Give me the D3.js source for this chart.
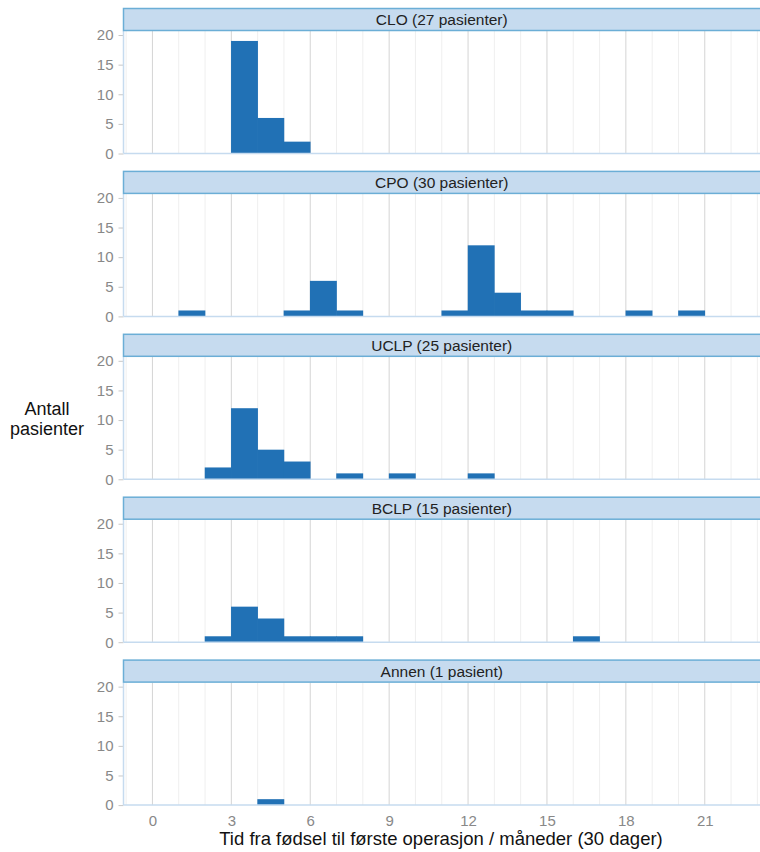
<!DOCTYPE html>
<html>
<head>
<meta charset="utf-8">
<script src="https://cdn.jsdelivr.net/npm/d3@7"></script>
<style>
  body { margin: 0; background: #fff; }
  svg { font-family: "Liberation Sans", Arial, sans-serif; }
</style>
</head>
<body>
<div id="chart"></div>
<script>
// Facets (diagnosis groups) and their strip titles
const groups = ['CLO', 'CPO', 'UCLP', 'BCLP', 'Annen'];
const stripLabels = ['CLO (27 pasienter)', 'CPO (30 pasienter)', 'UCLP (25 pasienter)', 'BCLP (15 pasienter)', 'Annen (1 pasient)'];

// Number of patients per one-month bin, starting at month 0
const cloCounts   = [0, 0, 0, 19, 6, 2, 0, 0, 0, 0, 0, 0, 0, 0, 0, 0, 0, 0, 0, 0, 0, 0, 0];
const cpoCounts   = [0, 1, 0, 0, 0, 1, 6, 1, 0, 0, 0, 1, 12, 4, 1, 1, 0, 0, 1, 0, 1, 0, 0];
const uclpCounts  = [0, 0, 2, 12, 5, 3, 0, 1, 0, 1, 0, 0, 1, 0, 0, 0, 0, 0, 0, 0, 0, 0, 0];
const bclpCounts  = [0, 0, 1, 6, 4, 1, 1, 1, 0, 0, 0, 0, 0, 0, 0, 0, 1, 0, 0, 0, 0, 0, 0];
const annenCounts = [0, 0, 0, 0, 1, 0, 0, 0, 0, 0, 0, 0, 0, 0, 0, 0, 0, 0, 0, 0, 0, 0, 0];
const allCounts = [cloCounts, cpoCounts, uclpCounts, bclpCounts, annenCounts];

const xTicks = [0, 3, 6, 9, 12, 15, 18, 21];
const yTicks = [0, 5, 10, 15, 20];

const width = 760;
const height = 852;
const plotLeft = 123.5;
const plotRight = 770;
const panelStep = 162.9;
const firstTop = 8;
const stripH = 22;
const plotH = 145.5;

const svg = d3.select('#chart').append('svg')
  .attr('width', width)
  .attr('height', height);

const x = d3.scaleLinear()
  .domain([-1.1, 23.48])
  .range([plotLeft, plotRight]);

const minorTicks = d3.range(-1, 24).filter(d => d % 3 !== 0);

groups.forEach((g, i) => {
  const top = firstTop + i * panelStep;
  const y = d3.scaleLinear()
    .domain([0, 20.68])
    .range([top + plotH, top + 23]);

  const panel = svg.append('g').attr('class', 'panel-' + g);

  // minor grid
  panel.selectAll('.minor')
    .data(minorTicks)
    .enter().append('line')
    .attr('x1', d => x(d)).attr('x2', d => x(d))
    .attr('y1', top + 23).attr('y2', top + plotH)
    .attr('stroke', '#efefef')
    .attr('stroke-width', 1);

  // major grid
  panel.selectAll('.major')
    .data(xTicks)
    .enter().append('line')
    .attr('x1', d => x(d)).attr('x2', d => x(d))
    .attr('y1', top + 23).attr('y2', top + plotH)
    .attr('stroke', '#d4d4d4')
    .attr('stroke-width', 1);

  // bars
  const bins = allCounts[i].map((c, m) => ({ m, c })).filter(d => d.c > 0);
  panel.selectAll('.bar')
    .data(bins)
    .enter().append('rect')
    .attr('x', d => x(d.m) - 0.3)
    .attr('width', d => x(d.m + 1) - x(d.m) + 0.6)
    .attr('y', d => y(d.c))
    .attr('height', d => y(0) - y(d.c))
    .attr('fill', '#2171b5');

  // y axis
  const yAxis = panel.append('g')
    .attr('transform', `translate(${plotLeft},0)`)
    .call(d3.axisLeft(y).tickValues(yTicks).tickSize(5).tickPadding(5));
  yAxis.select('.domain').remove();
  yAxis.selectAll('.tick line').attr('stroke', '#c8c8c8');
  yAxis.selectAll('.tick text')
    .attr('fill', '#888')
    .style('font-size', '15px');

  // axis lines
  panel.append('line')
    .attr('x1', plotLeft).attr('x2', plotLeft)
    .attr('y1', top + 23).attr('y2', top + plotH)
    .attr('stroke', '#c6dbef').attr('stroke-width', 1.5);
  panel.append('line')
    .attr('x1', plotLeft).attr('x2', plotRight)
    .attr('y1', top + plotH).attr('y2', top + plotH)
    .attr('stroke', '#c6dbef').attr('stroke-width', 1.5);

  // strip
  panel.append('rect')
    .attr('x', plotLeft).attr('y', top + 0.5)
    .attr('width', plotRight - plotLeft).attr('height', stripH)
    .attr('fill', '#c6dbef')
    .attr('stroke', '#6baed6')
    .attr('stroke-width', 1.5);
  panel.append('text')
    .attr('x', (plotLeft + 760) / 2)
    .attr('y', top + 12)
    .attr('dy', '0.35em')
    .attr('text-anchor', 'middle')
    .attr('fill', '#222')
    .style('font-size', '15.5px')
    .text(stripLabels[i]);

  // bottom x axis only on last panel
  if (i === groups.length - 1) {
    const xAxis = panel.append('g')
      .attr('transform', `translate(0,${top + plotH})`)
      .call(d3.axisBottom(x).tickValues(xTicks).tickSize(0).tickPadding(10));
    xAxis.select('.domain').remove();
    xAxis.selectAll('.tick text')
      .attr('fill', '#888')
      .style('font-size', '15px');
  }
});

// axis titles
svg.append('text')
  .attr('x', 441)
  .attr('y', 845)
  .attr('text-anchor', 'middle')
  .attr('fill', '#111')
  .style('font-size', '18.5px')
  .text('Tid fra fødsel til første operasjon / måneder (30 dager)');

const yTitle = svg.append('text')
  .attr('text-anchor', 'middle')
  .attr('fill', '#111')
  .style('font-size', '18px')
  .attr('transform', 'translate(0,0)');
yTitle.append('tspan').attr('x', 47).attr('y', 415).text('Antall');
yTitle.append('tspan').attr('x', 47).attr('y', 435).text('pasienter');
</script>
</body>
</html>
